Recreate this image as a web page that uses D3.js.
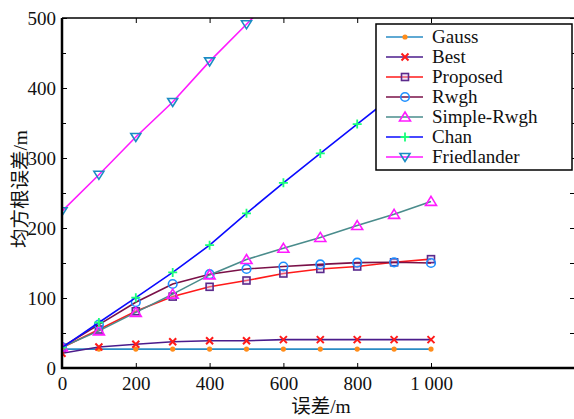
<!DOCTYPE html>
<html><head><meta charset="utf-8">
<script src="https://cdn.jsdelivr.net/npm/d3@7"></script>
<style>body{margin:0;background:#fff}svg{display:block}</style>
</head><body>
<script>
const xValues = [0,100,200,300,400,500,600,700,800,900,1000];
const seriesNames = ["Gauss","Best","Proposed","Rwgh","Simple-Rwgh","Chan","Friedlander"];
const gauss      = [27,27,27,27,27,27,27,27,27,27,27];
const best       = [21,30,34,37.5,39,39,40.5,40.5,40.5,40.5,40.5];
const proposed   = [29,55,81,102,116,125,135,141.5,145,151,155.5];
const rwgh       = [30,62,94,120,134,141.5,145,148,150.5,151,150];
const simpleRwgh = [30,53,79.5,105.5,133,155,171,186.5,203.5,219.5,238];
const chan       = [29,65,100.5,136.5,175.5,221,264.5,306.5,348.5,390,432];
const friedlander= [224,276,330,380,438,491,545,600,655,710,765];
const xTicks = [0,200,400,600,800,1000];
const yTicks = [0,100,200,300,400,500];
const yMinor = [50,150,250,350,450];

const SERIF='"Liberation Serif"';
const CJK='"Liberation Serif", "Noto Sans CJK SC"';

const W=574,H=419;
const svg=d3.select("body").append("svg").attr("width",W).attr("height",H);
svg.append("rect").attr("width",W).attr("height",H).attr("fill","#fff");
const x=d3.scaleLinear().domain([0,1400]).range([62,578.6]);
const y=d3.scaleLinear().domain([0,500]).range([368,18]);

svg.append("clipPath").attr("id","clip").append("rect")
  .attr("x",62).attr("y",18).attr("width",520).attr("height",350);

const styles=[
 {data:gauss,line:"#2a8cc4",mk:"dot",mc:"#ff8c1a"},
 {data:best,line:"#4b1c8c",mk:"x",mc:"#ff1a1a"},
 {data:proposed,line:"#ff1a1a",mk:"square",mc:"#5b2a8c"},
 {data:rwgh,line:"#7a1048",mk:"circle",mc:"#1e8fff"},
 {data:simpleRwgh,line:"#4a8c8c",mk:"tri",mc:"#ff1aff"},
 {data:chan,line:"#0a0aff",mk:"plus",mc:"#1aff7a"},
 {data:friedlander,line:"#ff1aff",mk:"tridown",mc:"#1a8cc4"}
];

function marker(g,type,color,cx,cy){
  if(type==="dot") g.append("circle").attr("cx",cx).attr("cy",cy).attr("r",2.6).attr("fill",color);
  else if(type==="x") g.append("path").attr("d",`M${cx-3.5},${cy-3.5}L${cx+3.5},${cy+3.5}M${cx-3.5},${cy+3.5}L${cx+3.5},${cy-3.5}`).attr("stroke",color).attr("stroke-width",2);
  else if(type==="square") g.append("rect").attr("x",cx-3.5).attr("y",cy-3.5).attr("width",7).attr("height",7).attr("fill","#d8b8e8").attr("fill-opacity",0.4).attr("stroke",color).attr("stroke-width",1.6);
  else if(type==="circle") g.append("circle").attr("cx",cx).attr("cy",cy).attr("r",4.3).attr("fill","none").attr("stroke",color).attr("stroke-width",1.6);
  else if(type==="tri") g.append("path").attr("d",`M${cx},${cy-5}L${cx+5.5},${cy+4}L${cx-5.5},${cy+4}Z`).attr("fill","none").attr("stroke",color).attr("stroke-width",1.6);
  else if(type==="tridown") g.append("path").attr("d",`M${cx-5},${cy-3.5}L${cx+5},${cy-3.5}L${cx},${cy+4.5}Z`).attr("fill","none").attr("stroke",color).attr("stroke-width",1.6);
  else if(type==="plus") g.append("path").attr("d",`M${cx-4.5},${cy}L${cx+4.5},${cy}M${cx},${cy-4.5}L${cx},${cy+4.5}`).attr("stroke",color).attr("stroke-width",1.8);
}

const plot=svg.append("g").attr("clip-path","url(#clip)");
const line=d3.line().x((d,i)=>x(xValues[i])).y(d=>y(d));
styles.forEach(s=>{
  plot.append("path").datum(s.data).attr("d",line).attr("fill","none").attr("stroke",s.line).attr("stroke-width",1.6);
  s.data.forEach((v,i)=>marker(plot,s.mk,s.mc,x(xValues[i]),y(v)));
});

// frame
svg.append("line").attr("x1",62).attr("x2",580).attr("y1",18).attr("y2",18).attr("stroke","#000").attr("stroke-width",1.5);
// axes
const fmt=d=>d===1000?"1 000":String(d);
const xAxis=d3.axisBottom(x).tickValues(xTicks).tickSize(-5).tickPadding(9).tickFormat(fmt);
const gx=svg.append("g").attr("transform","translate(0,368)").call(xAxis);
gx.select(".domain").attr("stroke-width",2.5).attr("d","M61,0H580");
gx.selectAll("text").style("font-family",SERIF).attr("font-size",19).attr("fill","#111");
const yAxis=d3.axisLeft(y).tickValues(yTicks).tickSize(-5).tickPadding(6);
const gy=svg.append("g").attr("transform","translate(62,0)").call(yAxis);
gy.select(".domain").attr("stroke-width",2.5).attr("d","M0,369V18");
gy.selectAll("text").style("font-family",SERIF).attr("font-size",19).attr("fill","#111");
svg.append("g").attr("transform","translate(62,0)").call(d3.axisLeft(y).tickValues(yMinor).tickSize(-4).tickFormat(""))
  .select(".domain").remove();
// top ticks
svg.append("g").attr("transform","translate(0,18)").call(d3.axisTop(x).tickValues(xTicks).tickSize(-5).tickFormat(""))
  .select(".domain").remove();
// right ticks at edge
svg.append("g").attr("transform","translate(574,0)").call(d3.axisRight(y).tickValues(yMinor.concat(yTicks)).tickSize(-4).tickFormat(""))
  .select(".domain").remove();

// labels
svg.append("text").style("font-family",CJK).attr("x",321).attr("y",413).attr("text-anchor","middle")
  .attr("font-size",19.5).attr("fill","#111").text("误差/m");
svg.append("text").style("font-family",CJK).attr("transform","translate(27,189) rotate(-90)").attr("text-anchor","middle")
  .attr("font-size",19.5).attr("fill","#111").text("均方根误差/m");

// legend
const lg=svg.append("g");
lg.append("rect").attr("x",376).attr("y",24).attr("width",196).attr("height",146).attr("fill","#fff").attr("stroke","#000").attr("stroke-width",1.5);
seriesNames.forEach((n,i)=>{
  const yy=37+i*20, s=styles[i];
  lg.append("line").attr("x1",386).attr("x2",423).attr("y1",yy).attr("y2",yy).attr("stroke",s.line).attr("stroke-width",1.6);
  marker(lg,s.mk,s.mc,405,yy);
  lg.append("text").style("font-family",SERIF).attr("x",432).attr("y",yy+6).attr("font-size",19).attr("fill","#111").text(n);
});
</script>
</body></html>
